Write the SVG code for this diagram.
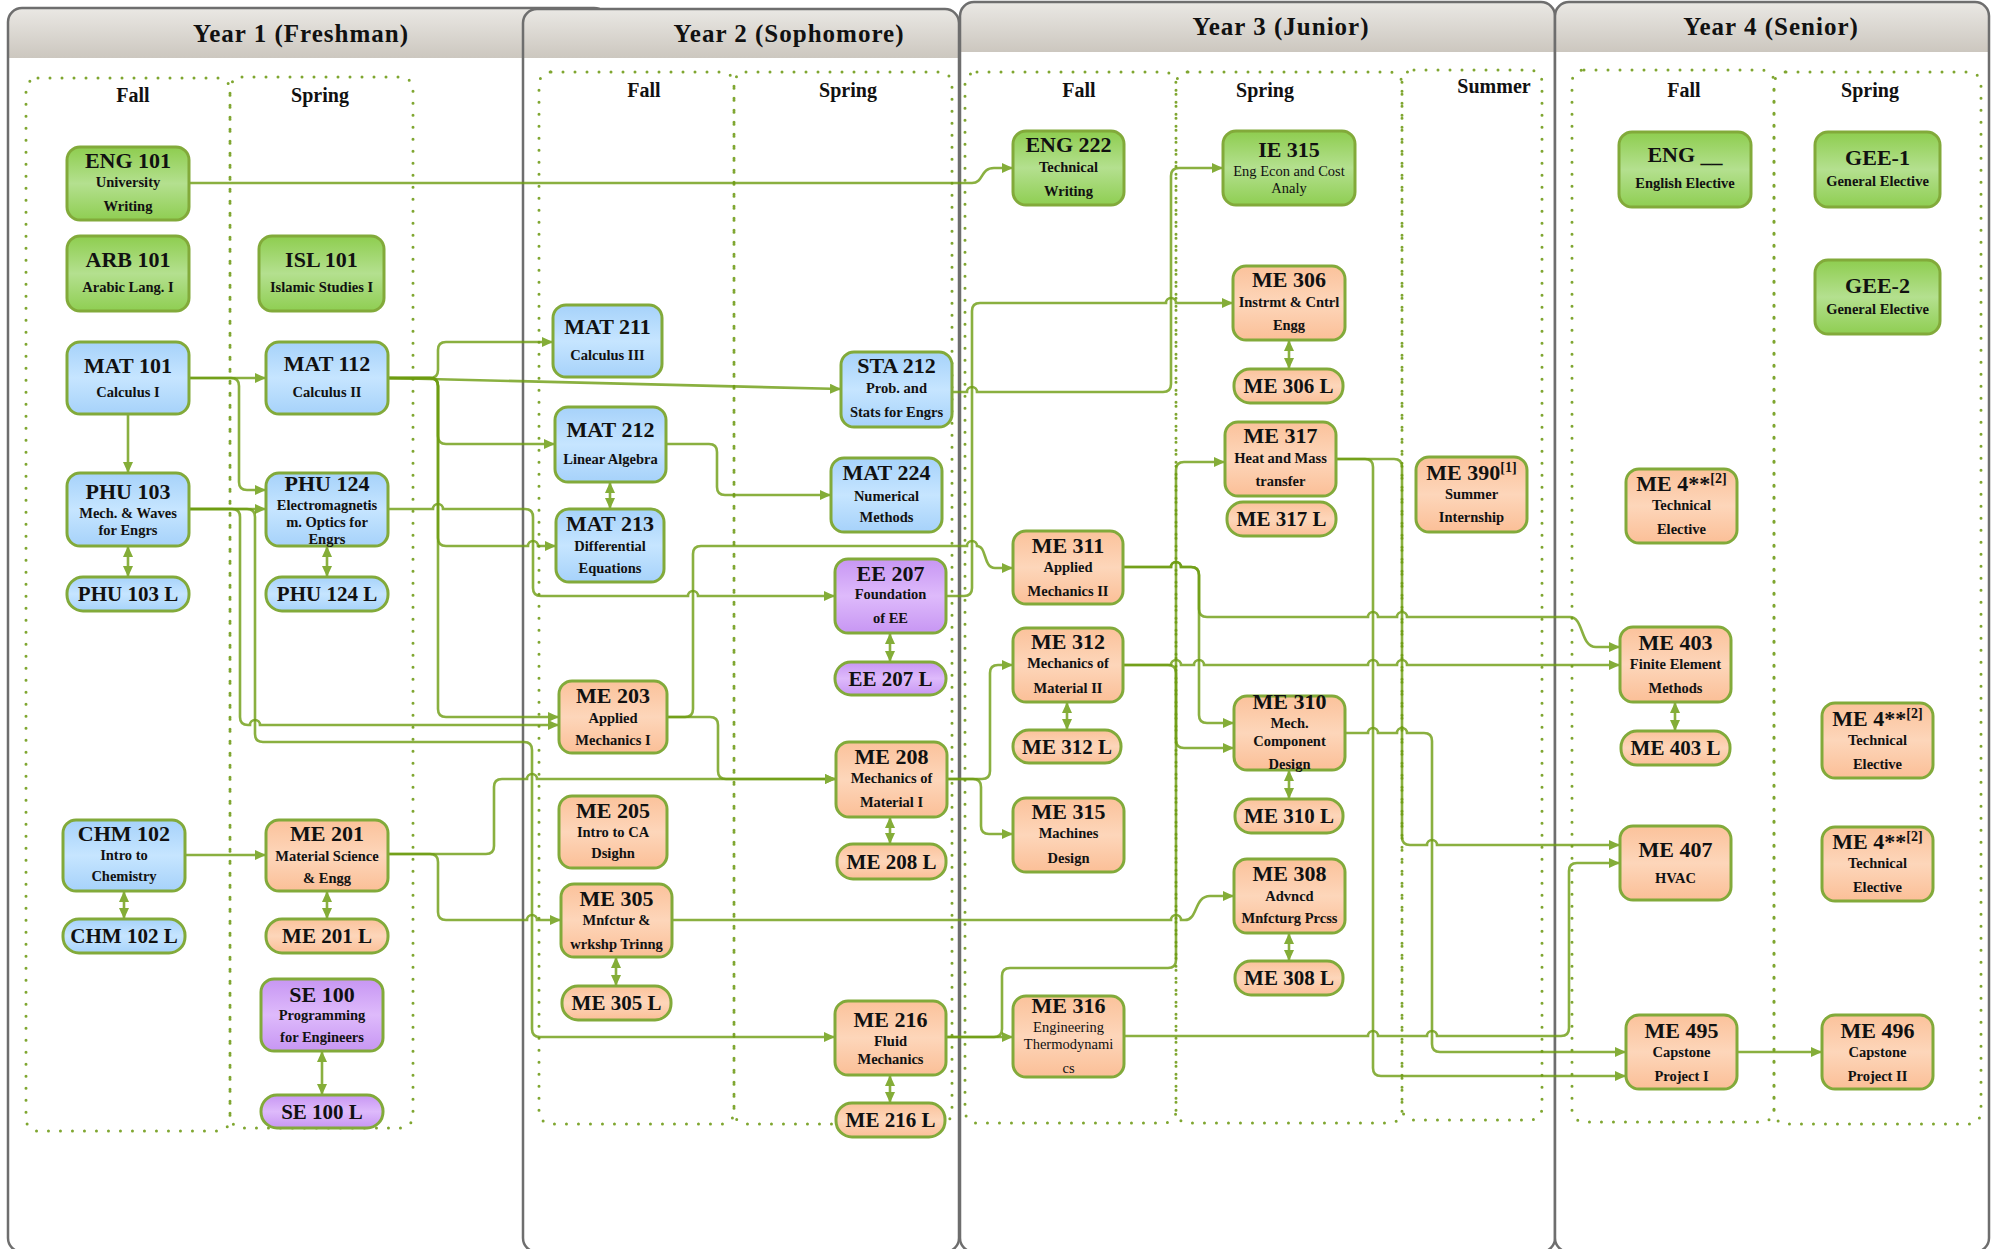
<svg xmlns="http://www.w3.org/2000/svg" width="1995" height="1249" viewBox="0 0 1995 1249">
<defs>
<linearGradient id="hdr" x1="0" y1="0" x2="0" y2="1"><stop offset="0" stop-color="#EAE8E4"/><stop offset="1" stop-color="#CCC7BF"/></linearGradient>
<linearGradient id="gG" x1="0" y1="0" x2="0" y2="1"><stop offset="0" stop-color="#8ECD4F"/><stop offset="0.5" stop-color="#B4E08F"/><stop offset="1" stop-color="#8FCE52"/></linearGradient>
<linearGradient id="gB" x1="0" y1="0" x2="0" y2="1"><stop offset="0" stop-color="#A6D2FA"/><stop offset="0.5" stop-color="#C6E5FF"/><stop offset="1" stop-color="#A6D2FA"/></linearGradient>
<linearGradient id="gO" x1="0" y1="0" x2="0" y2="1"><stop offset="0" stop-color="#FBC29B"/><stop offset="0.5" stop-color="#FDD6BA"/><stop offset="1" stop-color="#FBBF97"/></linearGradient>
<linearGradient id="gP" x1="0" y1="0" x2="0" y2="1"><stop offset="0" stop-color="#C796F3"/><stop offset="0.5" stop-color="#DEBAFB"/><stop offset="1" stop-color="#C796F3"/></linearGradient>
<marker id="a" viewBox="0 0 11 10" refX="11" refY="5" markerWidth="11" markerHeight="10" markerUnits="userSpaceOnUse" orient="auto-start-reverse"><path d="M0,0L11,5L0,10z" fill="#84AD38"/></marker>
<style>
text{font-family:'Liberation Serif','DejaVu Serif',serif;fill:#111}
.t{font-size:22px;font-weight:bold;text-anchor:middle}
.s{font-size:14.5px;font-weight:bold;text-anchor:middle}
.r{font-size:14.5px;text-anchor:middle}
.l{font-size:21px;font-weight:bold;text-anchor:middle}
.h{font-size:25px;font-weight:bold;text-anchor:middle;letter-spacing:1px}
.sem{font-size:20px;font-weight:bold;text-anchor:middle}
.box{stroke:#6E6E6E;stroke-width:2.5}
.dot{fill:none;stroke:#7FA630;stroke-width:3;stroke-dasharray:0 12;stroke-linecap:round}
.c{fill:none;stroke:#6D9C10;stroke-opacity:0.8;stroke-width:2.6}
.e{marker-end:url(#a)}
.d{marker-start:url(#a);marker-end:url(#a)}
.n rect{stroke:#82AA3A;stroke-width:3}
.G rect{fill:url(#gG)}
.B rect{fill:url(#gB)}
.O rect{fill:url(#gO)}
.P rect{fill:url(#gP)}
</style>
</defs>
<rect width="1995" height="1249" fill="#fff"/>
<g id="years">
<g id="year1"><rect x="8" y="8" width="600" height="1244" rx="14" fill="#fff"/><path d="M8,58 V22 Q8,8 22,8 H608 V58 Z" fill="url(#hdr)"/><rect class="box" x="8" y="8" width="600" height="1244" rx="14" fill="none"/><text class="h" x="301" y="42">Year 1 (Freshman)</text></g>
<g id="year2"><rect x="523" y="9" width="436" height="1243" rx="14" fill="#fff"/><path d="M523,58 V23 Q523,9 537,9 H945 Q959,9 959,23 V58 Z" fill="url(#hdr)"/><rect class="box" x="523" y="9" width="436" height="1243" rx="14" fill="none"/><text class="h" x="789" y="42">Year 2 (Sophomore)</text></g>
<g id="year3"><rect x="960" y="2" width="595" height="1250" rx="14" fill="#fff"/><path d="M960,52 V16 Q960,2 974,2 H1541 Q1555,2 1555,16 V52 Z" fill="url(#hdr)"/><rect class="box" x="960" y="2" width="595" height="1250" rx="14" fill="none"/><text class="h" x="1281" y="35">Year 3 (Junior)</text></g>
<g id="year4"><rect x="1555" y="2" width="434" height="1250" rx="14" fill="#fff"/><path d="M1555,52 V16 Q1555,2 1569,2 H1975 Q1989,2 1989,16 V52 Z" fill="url(#hdr)"/><rect class="box" x="1555" y="2" width="434" height="1250" rx="14" fill="none"/><text class="h" x="1771" y="35">Year 4 (Senior)</text></g>
</g>
<g id="semesters">
<rect class="dot" x="26" y="78" width="204" height="1053" rx="12"/>
<rect class="dot" x="230" y="77" width="183" height="1051" rx="12"/>
<rect class="dot" x="539" y="72" width="195" height="1052" rx="12"/>
<rect class="dot" x="734" y="72" width="218" height="1052" rx="12"/>
<rect class="dot" x="965" y="72" width="211" height="1051" rx="12"/>
<rect class="dot" x="1176" y="72" width="226" height="1051" rx="12"/>
<rect class="dot" x="1402" y="70" width="140" height="1050" rx="12"/>
<rect class="dot" x="1572" y="70" width="202" height="1052" rx="12"/>
<rect class="dot" x="1774" y="72" width="207" height="1052" rx="12"/>
<text class="sem" x="133" y="102">Fall</text>
<text class="sem" x="320" y="102">Spring</text>
<text class="sem" x="644" y="97">Fall</text>
<text class="sem" x="848" y="97">Spring</text>
<text class="sem" x="1079" y="97">Fall</text>
<text class="sem" x="1265" y="97">Spring</text>
<text class="sem" x="1494" y="93">Summer</text>
<text class="sem" x="1684" y="97">Fall</text>
<text class="sem" x="1870" y="97">Spring</text>
</g>
<g id="connectors">
<path class="c e" d="M189,183 H972 C984,183 980,168 994,168 H1013"/>
<path class="c e" d="M189,378 H266"/>
<path class="c e" d="M128,414 V473"/>
<path class="c e" d="M189,378 H231 Q239,378 239,386 V482 Q239,490 247,490 H266"/>
<path class="c e" d="M189,509 H266"/>
<path class="c e" d="M189,509 H232 Q240,509 240,517 V717 Q240,725 248,725 H250 A5,5 0 0 1 260,725 H559"/>
<path class="c e" d="M189,509 H247 Q255,509 255,517 V734 Q255,742 263,742 H524 Q532,742 532,750 V1029 Q532,1037 540,1037 H835"/>
<path class="c e" d="M388,378 H430 Q438,378 438,370 V350 Q438,342 446,342 H553"/>
<path class="c e" d="M388,378 L841,389"/>
<path class="c e" d="M388,378 H430 Q438,378 438,386 V436 Q438,444 446,444 H555"/>
<path class="c e" d="M388,378 H430 Q438,378 438,386 V538 Q438,546 446,546 H528 A5,5 0 0 1 538,546 H556"/>
<path class="c e" d="M388,378 H430 Q438,378 438,386 V709 Q438,717 446,717 H559"/>
<path class="c e" d="M388,509 H433 A5,5 0 0 1 443,509 H525 Q533,509 533,517 V588 Q533,596 541,596 H688 A5,5 0 0 1 698,596 H835"/>
<path class="c e" d="M666,444 H709 Q717,444 717,452 V487 Q717,495 725,495 H831"/>
<path class="c e" d="M667,717 H685 Q693,717 693,709 V554 Q693,546 701,546 H967 A5,5 0 0 1 977,546 C987,546 983,568 995,568 H1013"/>
<path class="c e" d="M667,717 H710 Q718,717 718,725 V771 Q718,779 726,779 H836"/>
<path class="c e" d="M388,854 H486 Q494,854 494,846 V787 Q494,779 502,779 H527 A5,5 0 0 1 537,779 H836"/>
<path class="c e" d="M388,854 H430 Q438,854 438,862 V912 Q438,920 446,920 H527 A5,5 0 0 1 537,920 H561"/>
<path class="c e" d="M185,855 H266"/>
<path class="c e" d="M952,392 H967 A5,5 0 0 1 977,392 H1163 Q1171,392 1171,384 V176 Q1171,168 1179,168 H1223"/>
<path class="c e" d="M946,596 H964 Q972,596 972,588 V311 Q972,303 980,303 H1166 A5,5 0 0 1 1176,303 H1233"/>
<path class="c e" d="M947,779 H982 Q990,779 990,771 V673 Q990,665 998,665 H1013"/>
<path class="c e" d="M947,779 H973 Q981,779 981,787 V826 Q981,834 989,834 H1013"/>
<path class="c e" d="M946,1037 H1013"/>
<path class="c e" d="M946,1037 H994 Q1002,1037 1002,1029 V976 Q1002,968 1010,968 H1168 Q1176,968 1176,960 V470 Q1176,462 1184,462 H1225"/>
<path class="c e" d="M672,920 H1171 A5,5 0 0 1 1181,920 H1185 C1198,920 1194,896 1210,896 H1234"/>
<path class="c e" d="M1123,567 H1171 A5,5 0 0 1 1181,567 H1191 Q1199,567 1199,575 V609 Q1199,617 1207,617 H1368 A5,5 0 0 1 1378,617 H1397 A5,5 0 0 1 1407,617 H1570 C1584,617 1580,647 1596,647 H1620"/>
<path class="c e" d="M1123,567 H1171 A5,5 0 0 1 1181,567 H1191 Q1199,567 1199,575 V715 Q1199,723 1207,723 H1234"/>
<path class="c e" d="M1123,665 H1171 A5,5 0 0 1 1181,665 H1194 A5,5 0 0 1 1204,665 H1368 A5,5 0 0 1 1378,665 H1397 A5,5 0 0 1 1407,665 H1620"/>
<path class="c e" d="M1123,665 H1168 Q1176,665 1176,673 V740 Q1176,748 1184,748 H1234"/>
<path class="c e" d="M1345,733 H1368 A5,5 0 0 1 1378,733 H1397 A5,5 0 0 1 1407,733 H1424 Q1432,733 1432,741 V1044 Q1432,1052 1440,1052 H1626"/>
<path class="c e" d="M1336,459 H1365 Q1373,459 1373,467 V1068 Q1373,1076 1381,1076 H1626"/>
<path class="c e" d="M1336,459 H1394 Q1402,459 1402,467 V837 Q1402,845 1410,845 H1427 A5,5 0 0 1 1437,845 H1620"/>
<path class="c e" d="M1124,1036 H1368 A5,5 0 0 1 1378,1036 H1427 A5,5 0 0 1 1437,1036 H1561 Q1569,1036 1569,1028 V871 Q1569,863 1577,863 H1620"/>
<path class="c e" d="M1737,1052 H1822"/>
<path class="c d" d="M128,546 V577"/>
<path class="c d" d="M327,546 V577"/>
<path class="c d" d="M124,891 V919"/>
<path class="c d" d="M327,891 V919"/>
<path class="c d" d="M322,1051 V1095"/>
<path class="c d" d="M610,482 V509"/>
<path class="c d" d="M890,633 V662"/>
<path class="c d" d="M890,817 V844"/>
<path class="c d" d="M616,957 V986"/>
<path class="c d" d="M890,1075 V1103"/>
<path class="c d" d="M1289,340 V369"/>
<path class="c d" d="M1067,702 V730"/>
<path class="c d" d="M1289,770 V799"/>
<path class="c d" d="M1289,933 V961"/>
<path class="c d" d="M1675,702 V731"/>
</g>
<g id="nodes">
<g id="eng101" class="n G"><rect x="67" y="147" width="122" height="73" rx="13"/><text class="t" x="128" y="168">ENG 101</text><text class="s" x="128" y="187">University</text><text class="s" x="128" y="211">Writing</text></g>
<g id="arb101" class="n G"><rect x="67" y="236" width="122" height="75" rx="13"/><text class="t" x="128" y="267">ARB 101</text><text class="s" x="128" y="292">Arabic Lang. I</text></g>
<g id="isl101" class="n G"><rect x="259" y="236" width="125" height="75" rx="13"/><text class="t" x="321.5" y="267">ISL 101</text><text class="s" x="321.5" y="292">Islamic Studies I</text></g>
<g id="mat101" class="n B"><rect x="67" y="342" width="122" height="72" rx="13"/><text class="t" x="128" y="373">MAT 101</text><text class="s" x="128" y="397">Calculus I</text></g>
<g id="mat112" class="n B"><rect x="266" y="342" width="122" height="72" rx="13"/><text class="t" x="327" y="371">MAT 112</text><text class="s" x="327" y="397">Calculus II</text></g>
<g id="phu103" class="n B"><rect x="67" y="473" width="122" height="73" rx="13"/><text class="t" x="128" y="499">PHU 103</text><text class="s" x="128" y="518">Mech. &amp; Waves</text><text class="s" x="128" y="535">for Engrs</text></g>
<g id="phu124" class="n B"><rect x="266" y="473" width="122" height="73" rx="13"/><text class="t" x="327" y="491">PHU 124</text><text class="s" x="327" y="510">Electromagnetis</text><text class="s" x="327" y="527">m. Optics for</text><text class="s" x="327" y="544">Engrs</text></g>
<g id="phu103l" class="n B"><rect x="67" y="577" width="122" height="34" rx="16"/><text class="l" x="128" y="601">PHU 103 L</text></g>
<g id="phu124l" class="n B"><rect x="266" y="577" width="122" height="34" rx="16"/><text class="l" x="327" y="601">PHU 124 L</text></g>
<g id="chm102" class="n B"><rect x="63" y="820" width="122" height="71" rx="13"/><text class="t" x="124" y="841">CHM 102</text><text class="s" x="124" y="860">Intro to</text><text class="s" x="124" y="881">Chemistry</text></g>
<g id="chm102l" class="n B"><rect x="63" y="919" width="122" height="34" rx="16"/><text class="l" x="124" y="943">CHM 102 L</text></g>
<g id="me201" class="n O"><rect x="266" y="820" width="122" height="71" rx="13"/><text class="t" x="327" y="841">ME 201</text><text class="s" x="327" y="861">Material Science</text><text class="s" x="327" y="883">&amp; Engg</text></g>
<g id="me201l" class="n O"><rect x="266" y="919" width="122" height="34" rx="16"/><text class="l" x="327" y="943">ME 201 L</text></g>
<g id="se100" class="n P"><rect x="261" y="979" width="122" height="72" rx="13"/><text class="t" x="322" y="1002">SE 100</text><text class="s" x="322" y="1020">Programming</text><text class="s" x="322" y="1042">for Engineers</text></g>
<g id="se100l" class="n P"><rect x="261" y="1095" width="122" height="33" rx="16"/><text class="l" x="322" y="1119">SE 100 L</text></g>
<g id="mat211" class="n B"><rect x="553" y="305" width="109" height="72" rx="13"/><text class="t" x="607.5" y="334">MAT 211</text><text class="s" x="607.5" y="360">Calculus III</text></g>
<g id="sta212" class="n B"><rect x="841" y="352" width="111" height="75" rx="13"/><text class="t" x="896.5" y="373">STA 212</text><text class="s" x="896.5" y="393">Prob.  and</text><text class="s" x="896.5" y="417">Stats for Engrs</text></g>
<g id="mat212" class="n B"><rect x="555" y="407" width="111" height="75" rx="13"/><text class="t" x="610.5" y="437">MAT 212</text><text class="s" x="610.5" y="464">Linear Algebra</text></g>
<g id="mat213" class="n B"><rect x="556" y="509" width="108" height="73" rx="13"/><text class="t" x="610" y="531">MAT 213</text><text class="s" x="610" y="551">Differential</text><text class="s" x="610" y="573">Equations</text></g>
<g id="mat224" class="n B"><rect x="831" y="458" width="111" height="74" rx="13"/><text class="t" x="886.5" y="480">MAT 224</text><text class="s" x="886.5" y="501">Numerical</text><text class="s" x="886.5" y="522">Methods</text></g>
<g id="ee207" class="n P"><rect x="835" y="559" width="111" height="74" rx="13"/><text class="t" x="890.5" y="581">EE 207</text><text class="s" x="890.5" y="599">Foundation</text><text class="s" x="890.5" y="623">of EE</text></g>
<g id="ee207l" class="n P"><rect x="835" y="662" width="111" height="33" rx="16"/><text class="l" x="890.5" y="686">EE 207 L</text></g>
<g id="me203" class="n O"><rect x="559" y="681" width="108" height="72" rx="13"/><text class="t" x="613" y="703">ME 203</text><text class="s" x="613" y="723">Applied</text><text class="s" x="613" y="745">Mechanics I</text></g>
<g id="me208" class="n O"><rect x="836" y="742" width="111" height="75" rx="13"/><text class="t" x="891.5" y="764">ME 208</text><text class="s" x="891.5" y="783">Mechanics of</text><text class="s" x="891.5" y="807">Material I</text></g>
<g id="me208l" class="n O"><rect x="837" y="844" width="109" height="35" rx="16"/><text class="l" x="891.5" y="869">ME 208 L</text></g>
<g id="me205" class="n O"><rect x="559" y="796" width="108" height="72" rx="13"/><text class="t" x="613" y="818">ME 205</text><text class="s" x="613" y="837">Intro to CA</text><text class="s" x="613" y="858">Dsighn</text></g>
<g id="me305" class="n O"><rect x="561" y="884" width="111" height="73" rx="13"/><text class="t" x="616.5" y="906">ME 305</text><text class="s" x="616.5" y="925">Mnfctur &amp;</text><text class="s" x="616.5" y="949">wrkshp Trinng</text></g>
<g id="me305l" class="n O"><rect x="562" y="986" width="109" height="34" rx="16"/><text class="l" x="616.5" y="1010">ME 305 L</text></g>
<g id="me216" class="n O"><rect x="835" y="1001" width="111" height="74" rx="13"/><text class="t" x="890.5" y="1027">ME 216</text><text class="s" x="890.5" y="1046">Fluid</text><text class="s" x="890.5" y="1064">Mechanics</text></g>
<g id="me216l" class="n O"><rect x="836" y="1103" width="109" height="34" rx="16"/><text class="l" x="890.5" y="1127">ME 216 L</text></g>
<g id="eng222" class="n G"><rect x="1013" y="131" width="111" height="74" rx="13"/><text class="t" x="1068.5" y="152">ENG 222</text><text class="s" x="1068.5" y="172">Technical</text><text class="s" x="1068.5" y="196">Writing</text></g>
<g id="ie315" class="n G"><rect x="1223" y="131" width="132" height="74" rx="13"/><text class="t" x="1289" y="157">IE 315</text><text class="r" x="1289" y="176">Eng Econ and Cost</text><text class="r" x="1289" y="193">Analy</text></g>
<g id="me306" class="n O"><rect x="1233" y="266" width="112" height="74" rx="13"/><text class="t" x="1289" y="287">ME 306</text><text class="s" x="1289" y="307">Instrmt &amp; Cntrl</text><text class="s" x="1289" y="330">Engg</text></g>
<g id="me306l" class="n O"><rect x="1234" y="369" width="109" height="34" rx="16"/><text class="l" x="1288.5" y="393">ME 306 L</text></g>
<g id="me317" class="n O"><rect x="1225" y="422" width="111" height="74" rx="13"/><text class="t" x="1280.5" y="443">ME 317</text><text class="s" x="1280.5" y="463">Heat and Mass</text><text class="s" x="1280.5" y="486">transfer</text></g>
<g id="me317l" class="n O"><rect x="1227" y="502" width="109" height="34" rx="16"/><text class="l" x="1281.5" y="526">ME 317 L</text></g>
<g id="me390" class="n O"><rect x="1416" y="457" width="111" height="75" rx="13"/><text class="t" x="1471.5" y="480">ME 390<tspan font-size="14" dy="-8">[1]</tspan></text><text class="s" x="1471.5" y="499">Summer</text><text class="s" x="1471.5" y="522">Internship</text></g>
<g id="me311" class="n O"><rect x="1013" y="531" width="110" height="73" rx="13"/><text class="t" x="1068" y="553">ME 311</text><text class="s" x="1068" y="572">Applied</text><text class="s" x="1068" y="596">Mechanics II</text></g>
<g id="me312" class="n O"><rect x="1013" y="628" width="110" height="74" rx="13"/><text class="t" x="1068" y="649">ME 312</text><text class="s" x="1068" y="668">Mechanics of</text><text class="s" x="1068" y="693">Material II</text></g>
<g id="me312l" class="n O"><rect x="1013" y="730" width="108" height="33" rx="16"/><text class="l" x="1067" y="754">ME 312 L</text></g>
<g id="me310" class="n O"><rect x="1234" y="696" width="111" height="74" rx="13"/><text class="t" x="1289.5" y="709">ME 310</text><text class="s" x="1289.5" y="728">Mech.</text><text class="s" x="1289.5" y="746">Component</text><text class="s" x="1289.5" y="769">Design</text></g>
<g id="me310l" class="n O"><rect x="1235" y="799" width="108" height="34" rx="16"/><text class="l" x="1289" y="823">ME 310 L</text></g>
<g id="me315" class="n O"><rect x="1013" y="798" width="111" height="74" rx="13"/><text class="t" x="1068.5" y="819">ME 315</text><text class="s" x="1068.5" y="838">Machines</text><text class="s" x="1068.5" y="863">Design</text></g>
<g id="me308" class="n O"><rect x="1234" y="859" width="111" height="74" rx="13"/><text class="t" x="1289.5" y="881">ME 308</text><text class="s" x="1289.5" y="901">Advncd</text><text class="s" x="1289.5" y="923">Mnfcturg Prcss</text></g>
<g id="me308l" class="n O"><rect x="1235" y="961" width="108" height="34" rx="16"/><text class="l" x="1289" y="985">ME 308 L</text></g>
<g id="me316" class="n O"><rect x="1013" y="996" width="111" height="81" rx="13"/><text class="t" x="1068.5" y="1013">ME 316</text><text class="r" x="1068.5" y="1032">Engineering</text><text class="r" x="1068.5" y="1049">Thermodynami</text><text class="r" x="1068.5" y="1073">cs</text></g>
<g id="eng4" class="n G"><rect x="1619" y="132" width="132" height="75" rx="13"/><text class="t" x="1685" y="162">ENG __</text><text class="s" x="1685" y="188">English Elective</text></g>
<g id="gee1" class="n G"><rect x="1815" y="132" width="125" height="75" rx="13"/><text class="t" x="1877.5" y="165">GEE-1</text><text class="s" x="1877.5" y="186">General Elective</text></g>
<g id="gee2" class="n G"><rect x="1815" y="260" width="125" height="74" rx="13"/><text class="t" x="1877.5" y="293">GEE-2</text><text class="s" x="1877.5" y="314">General Elective</text></g>
<g id="me4f" class="n O"><rect x="1626" y="469" width="111" height="74" rx="13"/><text class="t" x="1681.5" y="491">ME 4**<tspan font-size="14" dy="-8">[2]</tspan></text><text class="s" x="1681.5" y="510">Technical</text><text class="s" x="1681.5" y="534">Elective</text></g>
<g id="me403" class="n O"><rect x="1620" y="627" width="111" height="75" rx="13"/><text class="t" x="1675.5" y="650">ME 403</text><text class="s" x="1675.5" y="669">Finite Element</text><text class="s" x="1675.5" y="693">Methods</text></g>
<g id="me403l" class="n O"><rect x="1621" y="731" width="109" height="34" rx="16"/><text class="l" x="1675.5" y="755">ME 403 L</text></g>
<g id="me4s1" class="n O"><rect x="1822" y="703" width="111" height="75" rx="13"/><text class="t" x="1877.5" y="726">ME 4**<tspan font-size="14" dy="-8">[2]</tspan></text><text class="s" x="1877.5" y="745">Technical</text><text class="s" x="1877.5" y="769">Elective</text></g>
<g id="me407" class="n O"><rect x="1620" y="826" width="111" height="74" rx="13"/><text class="t" x="1675.5" y="857">ME 407</text><text class="s" x="1675.5" y="883">HVAC</text></g>
<g id="me4s2" class="n O"><rect x="1822" y="827" width="111" height="74" rx="13"/><text class="t" x="1877.5" y="849">ME 4**<tspan font-size="14" dy="-8">[2]</tspan></text><text class="s" x="1877.5" y="868">Technical</text><text class="s" x="1877.5" y="892">Elective</text></g>
<g id="me495" class="n O"><rect x="1626" y="1015" width="111" height="74" rx="13"/><text class="t" x="1681.5" y="1038">ME 495</text><text class="s" x="1681.5" y="1057">Capstone</text><text class="s" x="1681.5" y="1081">Project I</text></g>
<g id="me496" class="n O"><rect x="1822" y="1015" width="111" height="74" rx="13"/><text class="t" x="1877.5" y="1038">ME 496</text><text class="s" x="1877.5" y="1057">Capstone</text><text class="s" x="1877.5" y="1081">Project II</text></g>
</g>
</svg>
